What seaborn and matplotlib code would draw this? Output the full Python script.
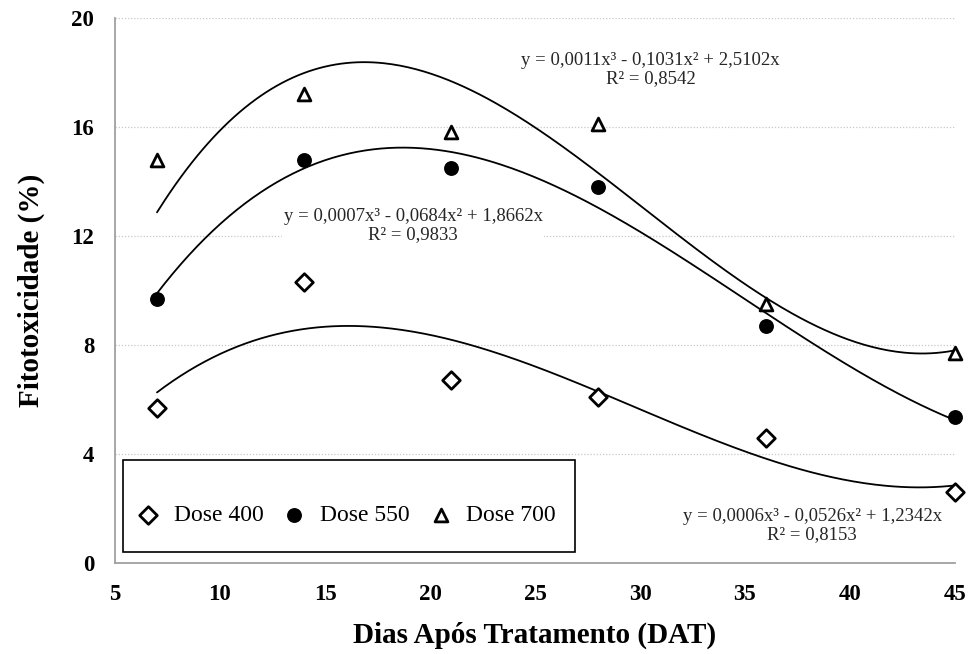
import numpy as np
import pandas as pd
import matplotlib
matplotlib.use("Agg")
import matplotlib.pyplot as plt
from matplotlib.patches import Rectangle
import seaborn as sns

# ---- data ----
dat = [7, 14, 21, 28, 36, 45]
dose_400 = [5.7, 10.3, 6.7, 6.1, 4.6, 2.6]
dose_550 = [9.7, 14.8, 14.5, 13.8, 8.7, 5.35]
dose_700 = [14.8, 17.2, 15.8, 16.1, 9.5, 7.7]
labels = ["Dose 400", "Dose 550", "Dose 700"]
equations = [
    "y = 0,0006x³ - 0,0526x² + 1,2342x\nR² = 0,8153",
    "y = 0,0007x³ - 0,0684x² + 1,8662x\nR² = 0,9833",
    "y = 0,0011x³ - 0,1031x² + 2,5102x\nR² = 0,8542",
]
x_ticks = [5, 10, 15, 20, 25, 30, 35, 40, 45]
y_ticks = [0, 4, 8, 12, 16, 20]

sns.set_theme(style="white")
plt.rcParams["font.family"] = ["Liberation Serif", "DejaVu Serif"]

fig = plt.figure(figsize=(9.68, 6.54), dpi=100)
ax = fig.add_axes([115/968, 1-563/654, 840/968, 545/654])

series = [dose_400, dose_550, dose_700]
markers = ["D", "o", "^"]
mstyle = [
    dict(facecolor="white", edgecolor="black", linewidth=2.0, s=80),
    dict(color="black", edgecolor="black", linewidth=0, s=115),
    dict(facecolor="white", edgecolor="black", linewidth=2.0, s=85),
]

# trend lines: cubic through origin (least squares)
xs = np.array(dat, dtype=float)
A = np.vstack([xs**3, xs**2, xs]).T
xx = np.linspace(min(dat), max(dat), 300)
for vals in series:
    coef, *_ = np.linalg.lstsq(A, np.array(vals), rcond=None)
    yy = coef[0]*xx**3 + coef[1]*xx**2 + coef[2]*xx
    sns.lineplot(x=xx, y=yy, ax=ax, color="black", linewidth=1.3, zorder=2)

for vals, m, st, lab in zip(series, markers, mstyle, labels):
    sns.scatterplot(x=dat, y=vals, ax=ax, marker=m, label=lab, zorder=4,
                    clip_on=False, **st)

ax.set_xlim(5, 45)
ax.set_ylim(0, 20)
ax.set_xticks(x_ticks)
ax.set_yticks(y_ticks)
ax.yaxis.grid(True, linestyle=(0, (1, 1.5)), color="#c8c8c8", linewidth=0.9)
ax.xaxis.grid(False)
for s in ["top", "right"]:
    ax.spines[s].set_visible(False)
for s in ["left", "bottom"]:
    ax.spines[s].set_color("#a0a0a0")
    ax.spines[s].set_linewidth(1.3)
ax.tick_params(axis="both", length=0, pad=15, labelsize=16.5, labelcolor="black")
for t in ax.get_xticklabels() + ax.get_yticklabels():
    t.set_fontweight("bold")
ax.set_xlabel("Dias Após Tratamento (DAT)", fontsize=21, fontweight="bold",
              color="black")
ax.set_ylabel("Fitotoxicidade (%)", fontsize=21, fontweight="bold",
              color="black")
ax.xaxis.set_label_coords(0.5, -(622-563)/545)
ax.yaxis.set_label_coords(-(115-45)/840, 0.5)

# equation labels
eq_pos = [(38.2, 1.36), (19.2, 12.37), (30.5, 18.1)]
for (ex, ey), txt in zip(eq_pos, equations):
    ax.text(ex, ey, txt, ha="center", va="center", fontsize=13.5,
            linespacing=1.1, zorder=3,
            bbox=dict(facecolor="white", edgecolor="none", pad=1))

# legend (frame drawn separately to match the box size)
x0, x1 = (123-115)/840, (575-115)/840
y0, y1 = (563-552)/545, (563-460)/545
ax.add_patch(Rectangle((x0, y0), x1-x0, y1-y0, transform=ax.transAxes,
                       facecolor="white", edgecolor="black", linewidth=1.2,
                       zorder=5))
leg = ax.legend(loc="center left", bbox_to_anchor=(x0, (563-515)/545), ncol=3,
                frameon=False, fontsize=17, borderaxespad=0,
                handletextpad=0.6, columnspacing=0.8, borderpad=0.55,
                handlelength=1.0)
leg.set_zorder(6)
for t in leg.get_texts():
    t.set_color("black")

fig.savefig("out.png", dpi=100, facecolor="white")
